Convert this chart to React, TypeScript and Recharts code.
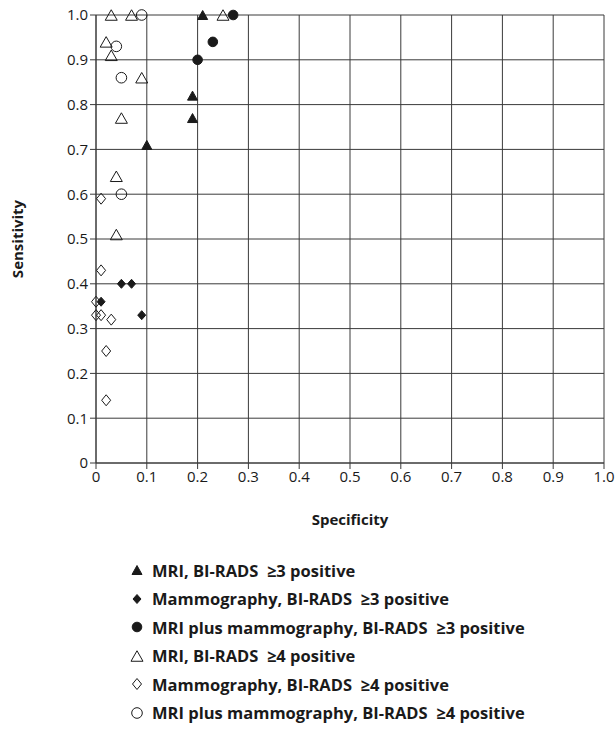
import { ScatterChart, Scatter, XAxis, YAxis, CartesianGrid, Label } from 'recharts'

// specificity (x) / sensitivity (y) pairs
const mriBirads3 = [
  { x: 0.21, y: 1.0 },
  { x: 0.19, y: 0.82 },
  { x: 0.19, y: 0.77 },
  { x: 0.1, y: 0.71 },
]
const mammoBirads3 = [
  { x: 0.05, y: 0.4 },
  { x: 0.07, y: 0.4 },
  { x: 0.01, y: 0.36 },
  { x: 0.09, y: 0.33 },
]
const comboBirads3 = [
  { x: 0.27, y: 1.0 },
  { x: 0.23, y: 0.94 },
  { x: 0.2, y: 0.9 },
]
const mriBirads4 = [
  { x: 0.03, y: 1.0 },
  { x: 0.07, y: 1.0 },
  { x: 0.25, y: 1.0 },
  { x: 0.02, y: 0.94 },
  { x: 0.03, y: 0.91 },
  { x: 0.09, y: 0.86 },
  { x: 0.05, y: 0.77 },
  { x: 0.04, y: 0.64 },
  { x: 0.04, y: 0.51 },
]
const mammoBirads4 = [
  { x: 0.01, y: 0.59 },
  { x: 0.01, y: 0.43 },
  { x: 0.0, y: 0.36 },
  { x: 0.0, y: 0.33 },
  { x: 0.01, y: 0.33 },
  { x: 0.03, y: 0.32 },
  { x: 0.02, y: 0.25 },
  { x: 0.02, y: 0.14 },
]
const comboBirads4 = [
  { x: 0.09, y: 1.0 },
  { x: 0.04, y: 0.93 },
  { x: 0.05, y: 0.86 },
  { x: 0.05, y: 0.6 },
]

const TICKS = [0, 0.1, 0.2, 0.3, 0.4, 0.5, 0.6, 0.7, 0.8, 0.9, 1.0]

const INK = '#1a1a1a'
const GRID = '#3a3a3a'
const FONT = '"Open Sans", "DejaVu Sans", sans-serif'

const fmtTick = (v: number) => (v === 0 ? '0' : v.toFixed(1))

type Mark = 'triangle' | 'diamond' | 'circle'

function drawMark(kind: Mark, filled: boolean, cx: number, cy: number, key?: string) {
  const fill = filled ? INK : 'none'
  if (kind === 'triangle') {
    const w = filled ? 10 : 12
    const h = filled ? 9 : 10.5
    return (
      <path
        key={key}
        d={`M${cx},${cy - h / 2} L${cx + w / 2},${cy + h / 2} L${cx - w / 2},${cy + h / 2} Z`}
        fill={fill}
        stroke={INK}
        strokeWidth={1}
      />
    )
  }
  if (kind === 'diamond') {
    const w = filled ? 8 : 9
    const h = filled ? 9 : 11
    return (
      <path
        key={key}
        d={`M${cx},${cy - h / 2} L${cx + w / 2},${cy} L${cx},${cy + h / 2} L${cx - w / 2},${cy} Z`}
        fill={fill}
        stroke={INK}
        strokeWidth={1}
      />
    )
  }
  return <circle key={key} cx={cx} cy={cy} r={filled ? 4.8 : 5.3} fill={fill} stroke={INK} strokeWidth={1} />
}

const shapeOf = (kind: Mark, filled: boolean) => (props: any) => drawMark(kind, filled, props.cx, props.cy)

const SERIES = [
  { label: 'MRI, BI-RADS  \u22653 positive', data: mriBirads3, kind: 'triangle' as Mark, filled: true },
  { label: 'Mammography, BI-RADS  \u22653 positive', data: mammoBirads3, kind: 'diamond' as Mark, filled: true },
  { label: 'MRI plus mammography, BI-RADS  \u22653 positive', data: comboBirads3, kind: 'circle' as Mark, filled: true },
  { label: 'MRI, BI-RADS  \u22654 positive', data: mriBirads4, kind: 'triangle' as Mark, filled: false },
  { label: 'Mammography, BI-RADS  \u22654 positive', data: mammoBirads4, kind: 'diamond' as Mark, filled: false },
  { label: 'MRI plus mammography, BI-RADS  \u22654 positive', data: comboBirads4, kind: 'circle' as Mark, filled: false },
]

export default function App() {
  return (
    <div style={{ position: 'absolute', left: 0, top: 0, width: 615, height: 729, background: '#fff', fontFamily: FONT }}>
      <ScatterChart width={615} height={729} margin={{ top: 15, right: 11, left: 0, bottom: 196 }}>
        <CartesianGrid stroke={GRID} strokeWidth={1} />
        <XAxis
          type="number"
          dataKey="x"
          domain={[0, 1]}
          ticks={TICKS}
          tickFormatter={fmtTick}
          height={70}
          tick={{ fontSize: 15, fill: INK, fontFamily: FONT }}
          axisLine={{ stroke: GRID }}
          tickLine={{ stroke: GRID }}
        >
          <Label
            value="Specificity"
            position="insideBottom"
            offset={8}
            style={{ fontSize: 15, fontWeight: 700, fill: INK, fontFamily: FONT }}
          />
        </XAxis>
        <YAxis
          type="number"
          dataKey="y"
          domain={[0, 1]}
          ticks={TICKS}
          tickFormatter={fmtTick}
          width={96}
          tick={{ fontSize: 15, fill: INK, fontFamily: FONT }}
          axisLine={{ stroke: GRID }}
          tickLine={{ stroke: GRID }}
        >
          <Label
            value="Sensitivity"
            angle={-90}
            position="insideLeft"
            offset={18}
            style={{ textAnchor: 'middle', fontSize: 15, fontWeight: 700, fill: INK, fontFamily: FONT }}
          />
        </YAxis>
        {SERIES.map((s) => (
          <Scatter
            key={s.label}
            name={s.label}
            data={s.data}
            shape={shapeOf(s.kind, s.filled)}
            isAnimationActive={false}
          />
        ))}
      </ScatterChart>
      <div style={{ position: 'absolute', left: 128, top: 556 }}>
        {SERIES.map((s) => (
          <div key={s.label} style={{ display: 'flex', alignItems: 'center', height: 28.5 }}>
            <svg width={18} height={16} style={{ marginRight: 6 }}>
              {drawMark(s.kind, s.filled, 9, 8)}
            </svg>
            <span style={{ fontSize: 16.5, fontWeight: 700, color: INK, whiteSpace: 'pre' }}>{s.label}</span>
          </div>
        ))}
      </div>
    </div>
  )
}
